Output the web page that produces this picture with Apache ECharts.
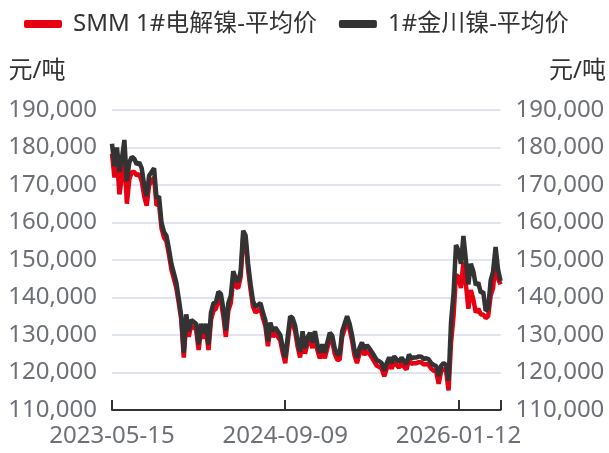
<!DOCTYPE html>
<html><head><meta charset="utf-8">
<script src="https://cdn.jsdelivr.net/npm/echarts@6/dist/echarts.min.js"></script>
<style>html,body{margin:0;padding:0;background:#fff}#c{width:609px;height:453px}</style>
</head><body><div id="c"></div>
<script>
const seriesNames = ['SMM 1#电解镍-平均价', '1#金川镍-平均价'];
const axisName = '元/吨';

function weekly(start, count) {
  const out = [];
  const d0 = new Date(start + 'T00:00:00Z');
  for (let i = 0; i < count; i++) {
    const d = new Date(d0.getTime() + i * 7 * 86400000);
    out.push(d.toISOString().slice(0, 10));
  }
  return out;
}
const dates = [].concat(weekly('2023-05-15', 39), ['2024-02-08'], weekly('2024-02-12', 30), weekly('2024-09-09', 88));

const smmNickel = [
178300,172000,177000,167500,172000,178500,165000,171500,173500,173500,
172500,173000,171000,167000,164500,170000,171000,172000,164500,165000,
158500,156000,155000,151500,147500,145000,142500,138500,134000,124000,
133500,129500,132500,132000,131500,126000,131500,129000,131500,126000,
134000,136500,137000,139500,139000,135000,129500,136500,138500,145000,
143000,142500,145500,156000,155000,147500,142000,137500,136000,136500,
137000,134500,132300,127000,131800,129500,130500,129500,128500,125200,
122500,128000,133500,133000,131000,126900,124000,129500,125000,127800,
129100,126500,129500,126000,123800,126000,123800,126500,129100,128300,
125000,123400,123400,129500,131500,133500,131500,128500,124500,122500,
125000,126500,124700,125800,125000,124000,122900,121800,121500,121000,
119000,121000,122500,121000,122800,122000,121300,122500,121500,120800,
123300,122300,122500,122500,122800,122700,122100,122300,122000,121000,
120500,120200,117000,120300,121000,120500,115200,128000,135000,146000,
145500,142500,149500,143500,137000,142000,139500,136000,137000,135500,
135500,134500,135000,140500,142500,150000,145000,143500
];
const jinchuanNickel = [
181000,175000,180000,173500,177000,182000,171000,176000,177500,177000,
175500,176000,174500,170000,167000,172500,173500,174500,166500,167000,
160000,157500,156500,153000,149000,146500,144000,139600,135000,125300,
135500,131000,134000,133500,133000,127500,133000,130500,133000,127500,
136000,138500,138700,141500,141000,137000,131200,138500,140500,147000,
145000,144200,147000,157800,156500,149000,143500,139000,137500,138000,
138500,136000,133800,128400,133300,131000,132000,131000,130000,126700,
124000,129500,135000,134500,132500,128400,125500,131000,126500,129300,
130600,128000,131000,127500,125300,127500,125300,128000,130600,129800,
126500,124900,124900,131000,133000,135000,133000,130000,126000,124000,
126500,128000,126200,127300,126500,125500,124400,123300,123000,122500,
120500,122500,124000,122500,124300,123500,122800,124000,123000,122300,
124800,123800,124000,124000,124300,124200,123600,123800,123500,122500,
122000,121700,119100,121800,122500,122000,117800,133500,141000,154000,
152500,149000,156400,150000,143500,149000,147000,143300,144000,141300,
141500,136500,137000,144500,147000,153500,147500,144400
];
const yMin = 110000, yMax = 190000, yStep = 10000;

const chart = echarts.init(document.getElementById('c'), null, {renderer: 'canvas'});
const FONT = "'Noto Sans', 'Noto Sans CJK SC', sans-serif";
const labelColor = '#6e7079';
const yCommon = {
  type: 'value', min: yMin, max: yMax, interval: yStep,
  name: axisName, nameLocation: 'end', nameGap: 27,
  axisLine: {show: false}, axisTick: {show: false},
  axisLabel: {fontSize: 24, color: labelColor, margin: 15, fontFamily: FONT}
};
chart.setOption({
  animation: false,
  textStyle: {fontFamily: FONT},
  legend: {
    top: 7, left: 19, itemGap: 22, itemWidth: 38, itemHeight: 8, icon: 'roundRect',
    textStyle: {fontSize: 24, color: '#333', fontFamily: FONT, padding: [0, 0, 0, 6]},
    data: seriesNames
  },
  grid: {left: 112, right: 107, top: 110, bottom: 43, containLabel: false},
  xAxis: {
    type: 'category', data: dates, boundaryGap: false,
    axisLine: {lineStyle: {color: '#333', width: 2}},
    axisTick: {inside: true, length: 10, lineStyle: {color: '#333', width: 2},
      interval: (i) => i % 70 === 0 || i === dates.length - 1},
    axisLabel: {interval: (i) => i % 70 === 0, fontSize: 24, color: labelColor, margin: 14, fontFamily: FONT},
    splitLine: {show: false}
  },
  yAxis: [
    Object.assign({}, yCommon, {position: 'left',
      nameTextStyle: {fontSize: 24, color: '#333', align: 'center', padding: [0, 150, 0, 0], fontFamily: FONT},
      splitLine: {lineStyle: {color: '#e0e4f0', width: 2}}}),
    Object.assign({}, yCommon, {position: 'right',
      nameTextStyle: {fontSize: 24, color: '#333', align: 'center', padding: [0, 0, 0, 154], fontFamily: FONT},
      splitLine: {show: false}})
  ],
  series: [
    {name: seriesNames[0], type: 'line', data: smmNickel, showSymbol: false, symbol: 'none',
      lineStyle: {color: '#e60012', width: 4.5}, itemStyle: {color: '#e60012'}},
    {name: seriesNames[1], type: 'line', data: jinchuanNickel, showSymbol: false, symbol: 'none',
      lineStyle: {color: '#333333', width: 4.5}, itemStyle: {color: '#333333'}}
  ]
});
</script>
</body></html>
